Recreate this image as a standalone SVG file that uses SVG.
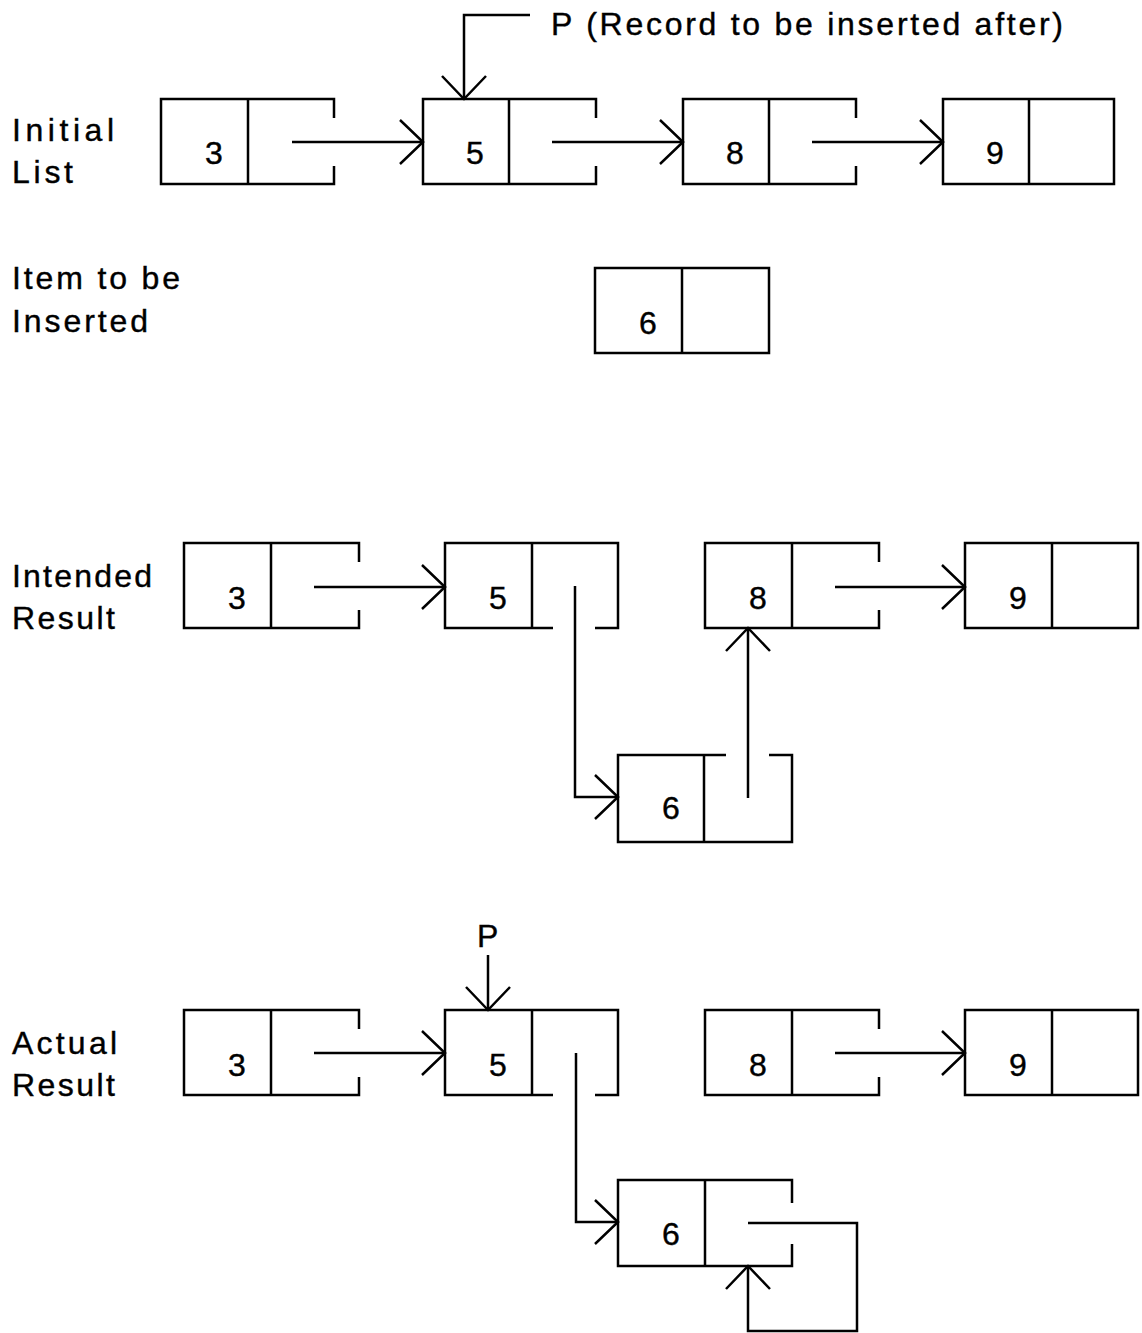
<svg xmlns="http://www.w3.org/2000/svg" width="1142" height="1333" viewBox="0 0 1142 1333">
  <style>
    .cell { fill: none; stroke: #000; stroke-width: 2.5; stroke-linejoin: miter; }
    .link { fill: none; stroke: #000; stroke-width: 2.5; }
    .lbl { font-family: "Liberation Sans", "DejaVu Sans", sans-serif; font-size: 32px; fill: #000; stroke: #000; stroke-width: 0.4; }
    .val { font-family: "Liberation Sans", "DejaVu Sans", sans-serif; font-size: 32px; fill: #000; stroke: #000; stroke-width: 0.4; text-anchor: middle; }
  </style>
  <defs>
    <marker id="arrow" markerUnits="userSpaceOnUse" viewBox="-26 -25 30 50" markerWidth="30" markerHeight="50" refX="0" refY="0" orient="auto">
      <path d="M-23,-22 L0,0 L-23,22" fill="none" stroke="#000" stroke-width="2.5"/>
    </marker>
  </defs>
  <rect width="1142" height="1333" fill="#fff"/>

  <!-- row labels -->
  <g id="labels">
    <text class="lbl" x="12" y="141" textLength="102" lengthAdjust="spacing">Initial</text>
    <text class="lbl" x="12" y="183" textLength="61" lengthAdjust="spacing">List</text>
    <text class="lbl" x="12" y="289" textLength="168" lengthAdjust="spacing">Item to be</text>
    <text class="lbl" x="12" y="332" textLength="136" lengthAdjust="spacing">Inserted</text>
    <text class="lbl" x="12" y="587" textLength="140" lengthAdjust="spacing">Intended</text>
    <text class="lbl" x="12" y="629" textLength="103" lengthAdjust="spacing">Result</text>
    <text class="lbl" x="12" y="1054" textLength="105" lengthAdjust="spacing">Actual</text>
    <text class="lbl" x="12" y="1096" textLength="103" lengthAdjust="spacing">Result</text>
    <text class="lbl" x="551" y="35" textLength="512" lengthAdjust="spacing">P (Record to be inserted after)</text>
    <text class="lbl" x="477" y="947">P</text>
  </g>

  <!-- initial list -->
  <g id="init-3">
    <path class="cell" d="M334,118 V99 H161 V184 H334 V166 M248,99 V184"/>
    <text class="val" x="214" y="164">3</text>
  </g>
  <g id="init-5">
    <path class="cell" d="M596,118 V99 H423 V184 H596 V166 M509,99 V184"/>
    <text class="val" x="475" y="164">5</text>
  </g>
  <g id="init-8">
    <path class="cell" d="M856,118 V99 H683 V184 H856 V166 M769,99 V184"/>
    <text class="val" x="735" y="164">8</text>
  </g>
  <g id="init-9">
    <rect class="cell" x="943" y="99" width="171" height="85"/>
    <path class="cell" d="M1029,99 V184"/>
    <text class="val" x="995" y="164">9</text>
  </g>

  <!-- item to be inserted -->
  <g id="new-6">
    <rect class="cell" x="595" y="268" width="174" height="85"/>
    <path class="cell" d="M682,268 V353"/>
    <text class="val" x="648" y="334">6</text>
  </g>

  <!-- intended result -->
  <g id="int-3">
    <path class="cell" d="M359,562 V543 H184 V628 H359 V610 M271,543 V628"/>
    <text class="val" x="237" y="609">3</text>
  </g>
  <g id="int-5">
    <path class="cell" d="M553,628 H445 V543 H618 V628 H595 M532,543 V628"/>
    <text class="val" x="498" y="609">5</text>
  </g>
  <g id="int-8">
    <path class="cell" d="M879,562 V543 H705 V628 H879 V610 M792,543 V628"/>
    <text class="val" x="758" y="609">8</text>
  </g>
  <g id="int-9">
    <rect class="cell" x="965" y="543" width="173" height="85"/>
    <path class="cell" d="M1052,543 V628"/>
    <text class="val" x="1018" y="609">9</text>
  </g>
  <g id="int-6">
    <path class="cell" d="M726,755 H618 V842 H792 V755 H769 M704,755 V842"/>
    <text class="val" x="671" y="819">6</text>
  </g>

  <!-- actual result -->
  <g id="act-3">
    <path class="cell" d="M359,1029 V1010 H184 V1095 H359 V1077 M271,1010 V1095"/>
    <text class="val" x="237" y="1076">3</text>
  </g>
  <g id="act-5">
    <path class="cell" d="M553,1095 H445 V1010 H618 V1095 H595 M532,1010 V1095"/>
    <text class="val" x="498" y="1076">5</text>
  </g>
  <g id="act-8">
    <path class="cell" d="M879,1029 V1010 H705 V1095 H879 V1077 M792,1010 V1095"/>
    <text class="val" x="758" y="1076">8</text>
  </g>
  <g id="act-9">
    <rect class="cell" x="965" y="1010" width="173" height="85"/>
    <path class="cell" d="M1052,1010 V1095"/>
    <text class="val" x="1018" y="1076">9</text>
  </g>
  <g id="act-6">
    <path class="cell" d="M792,1203 V1180 H618 V1266 H792 V1244 M705,1180 V1266"/>
    <text class="val" x="671" y="1245">6</text>
  </g>

  <!-- pointers -->
  <g id="connectors">
    <path class="link" d="M292,142 H423" marker-end="url(#arrow)"/>
    <path class="link" d="M552,142 H683" marker-end="url(#arrow)"/>
    <path class="link" d="M812,142 H943" marker-end="url(#arrow)"/>
    <path class="link" d="M530,15 H464 V99" marker-end="url(#arrow)"/>

    <path class="link" d="M314,587 H445" marker-end="url(#arrow)"/>
    <path class="link" d="M575,586 V797 H618" marker-end="url(#arrow)"/>
    <path class="link" d="M748,798 V628" marker-end="url(#arrow)"/>
    <path class="link" d="M835,587 H965" marker-end="url(#arrow)"/>

    <path class="link" d="M314,1053 H445" marker-end="url(#arrow)"/>
    <path class="link" d="M488,955 V1010" marker-end="url(#arrow)"/>
    <path class="link" d="M576,1053 V1222 H618" marker-end="url(#arrow)"/>
    <path class="link" d="M835,1053 H965" marker-end="url(#arrow)"/>
    <path class="link" d="M748,1223 H857 V1331 H748 V1266" marker-end="url(#arrow)"/>
  </g>
</svg>
